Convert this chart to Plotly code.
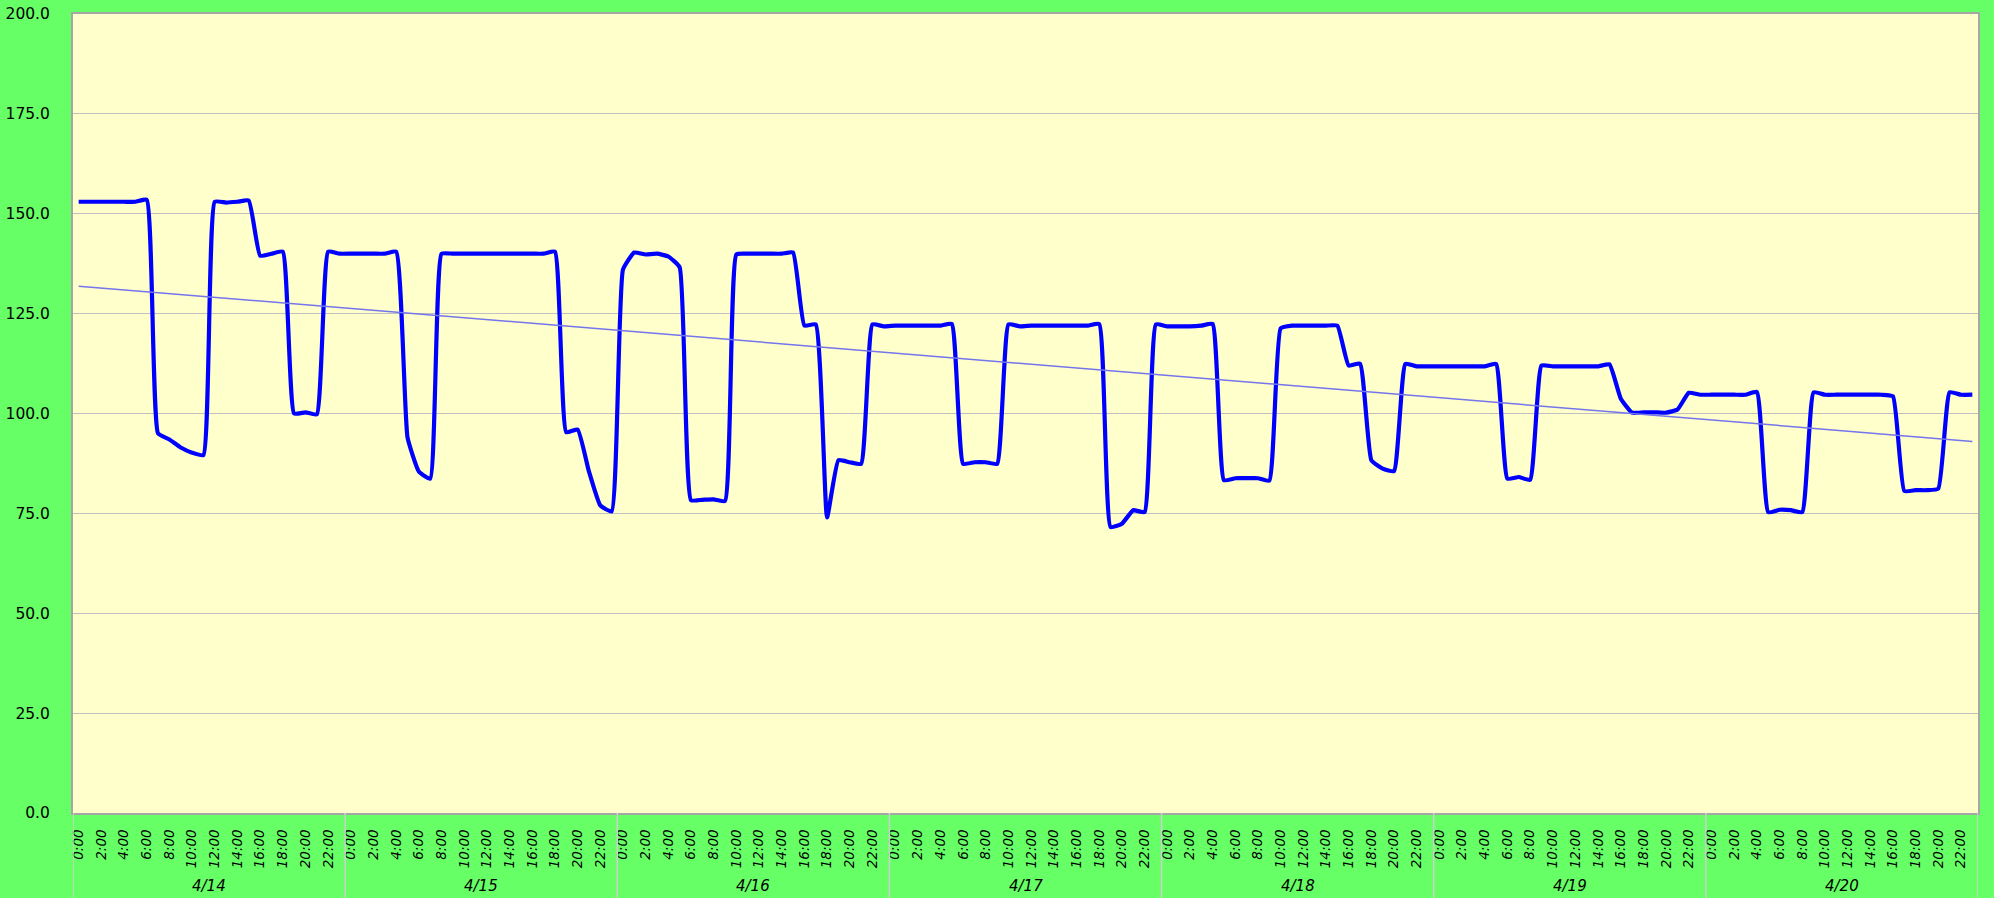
import numpy as np
import plotly.graph_objects as go

# ---- data (hourly readings, one list per day) ----
dates = ["4/14", "4/15", "4/16", "4/17", "4/18", "4/19", "4/20"]
hour_labels = ["0:00", "2:00", "4:00", "6:00", "8:00", "10:00",
               "12:00", "14:00", "16:00", "18:00", "20:00", "22:00"]

day_0414 = [153, 153, 153, 153, 153, 153, 153.5, 95, 93.5, 91.5, 90.2, 89.6,
            153, 152.8, 153, 153.3, 139.5, 140, 140.5, 100, 100.3, 99.8, 140.5, 140]
day_0415 = [140, 140, 140, 140, 140.5, 94, 85.5, 83.7, 140, 140, 140, 140,
            140, 140, 140, 140, 140, 140, 140.5, 95.3, 96, 85.5, 77, 75.5]
day_0416 = [136, 140.3, 139.8, 140, 139.3, 136.6, 78.3, 78.4, 78.5, 78.1, 139.8, 140,
            140, 140, 140, 140.3, 122, 122.3, 74, 88.3, 87.8, 87.4, 122.3, 121.8]
day_0417 = [122, 122, 122, 122, 122, 122.4, 87.4, 87.8, 87.8, 87.4, 122.3, 121.8,
            122, 122, 122, 122, 122, 122, 122.4, 71.6, 72.4, 75.8, 75.3, 122.3]
day_0418 = [121.8, 121.8, 121.8, 122, 122.4, 83.3, 83.8, 83.8, 83.8, 83.2, 121.3, 122,
            122, 122, 122, 122, 112, 112.5, 88.3, 86.2, 85.6, 112.4, 111.8, 111.8]
day_0419 = [111.8, 111.8, 111.8, 111.8, 111.8, 112.4, 83.7, 84.1, 83.4, 112, 111.8, 111.8,
            111.8, 111.8, 111.8, 112.3, 103.7, 100.2, 100.3, 100.3, 100.2, 101, 105.2, 104.7]
day_0420 = [104.7, 104.7, 104.7, 104.7, 105.4, 75.3, 75.9, 75.8, 75.3, 105.3, 104.7, 104.7,
            104.7, 104.7, 104.7, 104.7, 104.3, 80.6, 80.8, 80.8, 81.2, 105.3, 104.7, 104.7]

days = [day_0414, day_0415, day_0416, day_0417, day_0418, day_0419, day_0420]
values = np.array([v for d in days for v in d], dtype=float)
hours_per_day = len(day_0414)
n = len(values)
x = np.arange(n)

# linear trend line (least squares)
slope, intercept = np.polyfit(x, values, 1)
trend = slope * x + intercept

# ---- figure ----
fig = go.Figure()
fig.add_trace(go.Scatter(
    x=x, y=values, mode="lines",
    line=dict(color="#0000FF", width=4.2, shape="spline", smoothing=0.4),
    showlegend=False, hoverinfo="skip"))
fig.add_trace(go.Scatter(
    x=x, y=trend, mode="lines",
    line=dict(color="#7474EC", width=1.5),
    showlegend=False, hoverinfo="skip"))

tickvals = list(range(0, n, 2))
ticktext = [hour_labels[(v % hours_per_day) // 2] for v in tickvals]

# day separators and day labels below the axis
shapes = []
for k in range(len(dates) + 1):
    xv = k * hours_per_day - 0.5
    shapes.append(dict(type="line", xref="x", yref="paper", x0=xv, x1=xv,
                       y0=0, y1=-0.11, line=dict(color="#CFCFCF", width=1.5),
                       layer="above"))
annotations = []
for k, d in enumerate(dates):
    annotations.append(dict(
        x=k * hours_per_day + (hours_per_day - 1) / 2, xref="x",
        y=0, yref="paper", yshift=-73, yanchor="middle", xanchor="center",
        text=d, showarrow=False,
        font=dict(family="DejaVu Sans", size=15, color="#000000", style="italic")))

fig.update_layout(
    width=1994, height=898,
    margin=dict(l=73, r=16, t=14, b=85),
    paper_bgcolor="#66FF66",
    plot_bgcolor="#FFFFCC",
    shapes=shapes,
    annotations=annotations,
    xaxis=dict(
        range=[-0.5, n - 0.5], automargin=False,
        tickmode="array", tickvals=tickvals, ticktext=ticktext,
        tickangle=-90, ticks="", showgrid=False, zeroline=False,
        showline=True, linecolor="#A6A6A6", linewidth=2, mirror=True,
        ticklabelstandoff=9,
        tickfont=dict(family="DejaVu Sans", size=13.5, color="#000000", style="italic"),
    ),
    yaxis=dict(
        range=[0, 200], dtick=25, tick0=0, tickformat=".1f", automargin=False,
        showgrid=True, gridcolor="#C0C0C0", gridwidth=1, zeroline=False,
        showline=True, linecolor="#A6A6A6", linewidth=2, mirror=True,
        ticks="", ticklabelstandoff=18,
        tickfont=dict(family="DejaVu Sans", size=15.5, color="#000000"),
    ),
)

fig.write_html(
    "out.html",
    config={"displayModeBar": False},
    post_script="document.body.style.margin='0';"
                "document.body.style.background='#66FF66';"
                "document.body.style.overflow='hidden';",
)
